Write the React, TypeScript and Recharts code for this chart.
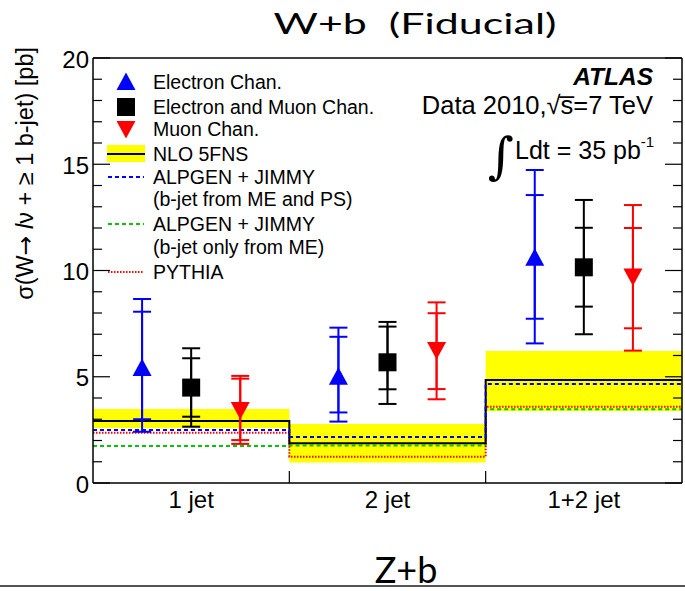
import React from "react";
import { Area, ComposedChart, ErrorBar, Line, Scatter, XAxis, YAxis } from "recharts";

const categories = ["1 jet", "2 jet", "1+2 jet"];

// measured W+b cross sections [pb]: central value, stat-only bounds, total bounds
const electronValue = [5.41, 5.0, 10.6];
const electronStatLow = [3.0, 3.32, 7.73];
const electronStatHigh = [8.06, 6.88, 13.55];
const electronTotLow = [2.41, 2.89, 6.57];
const electronTotHigh = [8.66, 7.31, 14.73];

const combinedValue = [4.49, 5.68, 10.15];
const combinedStatLow = [3.12, 4.41, 8.3];
const combinedStatHigh = [5.87, 7.36, 12.01];
const combinedTotLow = [2.65, 3.72, 7.0];
const combinedTotHigh = [6.34, 7.58, 13.32];

const muonValue = [3.44, 6.26, 9.72];
const muonStatLow = [2.02, 4.42, 7.28];
const muonStatHigh = [4.91, 7.99, 12.0];
const muonTotLow = [1.84, 3.94, 6.23];
const muonTotHigh = [5.04, 8.5, 13.08];

// predictions, one value per bin
const nloCentral = [2.92, 1.87, 4.85];
const nloLow = [2.58, 0.96, 3.39];
const nloHigh = [3.48, 2.78, 6.21];
const alpgenMePs = [2.49, 2.16, 4.66];
const alpgenMe = [1.74, 1.76, 3.47];
const pythia = [2.37, 1.24, 3.59];

const yTicks = [0, 1, 2, 3, 4, 5, 6, 7, 8, 9, 10, 11, 12, 13, 14, 15, 16, 17, 18, 19, 20];
const yLabels = [0, 5, 10, 15, 20];

const FONT = "'Liberation Sans', Arial, Helvetica, sans-serif";
const SLIDE_FONT = "Lato, 'Open Sans', sans-serif";
const BLUE = "#0000ff";
const RED = "#ff0000";
const GREEN = "#00c800";
const YELLOW = "#ffff00";

// histogram-style step: repeat the last bin so stepAfter closes the final bin
const steps = (vals: number[]) => [...vals, vals[vals.length - 1]].map((y, i) => ({ x: i, y }));
const band = (lo: number[], hi: number[]) =>
  [...lo, lo[lo.length - 1]].map((_, i) => {
    const k = Math.min(i, lo.length - 1);
    return { x: i, range: [lo[k], hi[k]] };
  });

const points = (value: number[], sLo: number[], sHi: number[], tLo: number[], tHi: number[], offset: number) =>
  value.map((v, i) => ({
    x: i + offset,
    y: v,
    stat: [v - sLo[i], sHi[i] - v],
    tot: [v - tLo[i], tHi[i] - v],
  }));

const electronPts = points(electronValue, electronStatLow, electronStatHigh, electronTotLow, electronTotHigh, 0.25);
const combinedPts = points(combinedValue, combinedStatLow, combinedStatHigh, combinedTotLow, combinedTotHigh, 0.5);
const muonPts = points(muonValue, muonStatLow, muonStatHigh, muonTotLow, muonTotHigh, 0.75);

const UpTriangle = ({ cx, cy, fill }: any) => (
  <polygon points={`${cx},${cy - 9.5} ${cx - 9.5},${cy + 8} ${cx + 9.5},${cy + 8}`} fill={fill} />
);
const DownTriangle = ({ cx, cy, fill }: any) => (
  <polygon points={`${cx - 9.5},${cy - 8} ${cx + 9.5},${cy - 8} ${cx},${cy + 9.5}`} fill={fill} />
);
const Square = ({ cx, cy, fill }: any) => <rect x={cx - 9} y={cy - 9} width={18} height={18} fill={fill} />;

// ROOT-style ticks: drawn inside the frame, labels only on the majors
const LeftTick = ({ x, y, payload }: any) => {
  const major = yLabels.includes(payload.value);
  return (
    <g>
      <line x1={x} x2={x + (major ? 17 : 9)} y1={y} y2={y} stroke="#000" strokeWidth={1.2} />
      {major && (
        <text x={x - 4} y={y + 9.5} textAnchor="end" fontSize={24} fontFamily={FONT} fill="#000">
          {payload.value}
        </text>
      )}
    </g>
  );
};

const RightTick = ({ x, y, payload }: any) => {
  const major = yLabels.includes(payload.value);
  return <line x1={x} x2={x - (major ? 17 : 9)} y1={y} y2={y} stroke="#000" strokeWidth={1.2} />;
};

const BottomTick = ({ x, y, payload }: any) => {
  const v = payload.value;
  if (Number.isInteger(v)) {
    return <line x1={x} x2={x} y1={y} y2={y - 12} stroke="#000" strokeWidth={1.2} />;
  }
  return (
    <text x={x} y={y + 25} textAnchor="middle" fontSize={24} fontFamily={FONT} fill="#000">
      {categories[Math.floor(v)]}
    </text>
  );
};

const TopTick = ({ x, y }: any) => <line x1={x} x2={x} y1={y} y2={y + 12} stroke="#000" strokeWidth={1.2} />;

const frameLine = { stroke: "#000", strokeWidth: 1.5 };

function Overlay() {
  const legendText = { fontSize: 19.5, fontFamily: FONT, fill: "#000" } as const;
  return (
    <svg width={685} height={591} style={{ position: "absolute", left: 0, top: 0, pointerEvents: "none" }}>
      <text x={415} y={34} textAnchor="middle" fontFamily={SLIDE_FONT} fontSize={29}
        textLength={283} lengthAdjust="spacingAndGlyphs" fill="#000">
        W+b{"\u00a0\u00a0"}(Fiducial)
      </text>

      <text transform="translate(33,47) rotate(-90)" textAnchor="end" fontSize={23.5} fontFamily={FONT} fill="#000">
        σ(W<tspan fontFamily="'DejaVu Sans', sans-serif">→</tspan> <tspan fontStyle="italic">l</tspan>ν + ≥ 1 b-jet) [pb]
      </text>

      {/* legend */}
      <polygon points="126,72.5 116.5,90 135.5,90" fill={BLUE} />
      <text x={153} y={89} {...legendText}>Electron Chan.</text>
      <rect x={117} y={98} width={18} height={18} fill="#000" />
      <text x={153} y={114} {...legendText}>Electron and Muon Chan.</text>
      <polygon points="116.5,121 135.5,121 126,138.5" fill={RED} />
      <text x={153} y={136} {...legendText}>Muon Chan.</text>
      <rect x={107} y={145} width={38} height={17} fill={YELLOW} />
      <line x1={107} x2={145} y1={154} y2={154} stroke="#000" strokeWidth={2} />
      <text x={153} y={161} {...legendText}>NLO 5FNS</text>
      <line x1={108} x2={144} y1={177} y2={177} stroke={BLUE} strokeWidth={2} strokeDasharray="4 3" />
      <text x={153} y={184} {...legendText}>ALPGEN + JIMMY</text>
      <text x={153} y={206} {...legendText}>(b-jet from ME and PS)</text>
      <line x1={108} x2={144} y1={224} y2={224} stroke={GREEN} strokeWidth={2} strokeDasharray="4 3" />
      <text x={153} y={231} {...legendText}>ALPGEN + JIMMY</text>
      <text x={153} y={254} {...legendText}>(b-jet only from ME)</text>
      <line x1={108} x2={144} y1={272} y2={272} stroke={RED} strokeWidth={2} strokeDasharray="1.5 1.5" />
      <text x={153} y={279} {...legendText}>PYTHIA</text>

      {/* experiment label */}
      <text x={653} y={85} textAnchor="end" fontSize={24.5} fontFamily={FONT} fontWeight="bold" fontStyle="italic" fill="#000">
        ATLAS
      </text>
      <text x={653} y={114} textAnchor="end" fontSize={25.5} fontFamily={FONT} fill="#000">
        Data 2010,√s̅=7 TeV
      </text>
      <text x={488} y={173} fontSize={50} fontFamily="'DejaVu Serif', serif" fill="#000">∫</text>
      <text x={515} y={159} fontSize={25} fontFamily={FONT} fill="#000">
        Ldt = 35 pb<tspan fontSize={15} dy={-12}>-1</tspan>
      </text>

      <line x1={0} x2={685} y1={586} y2={586} stroke="#555" strokeWidth={2} />
      <text x={406} y={583} textAnchor="middle" fontFamily={SLIDE_FONT} fontSize={36} fill="#000">
        Z+b
      </text>
    </svg>
  );
}

export default function App() {
  return (
    <div style={{ position: "absolute", left: 0, top: 0, width: 685, height: 591, background: "#fff", overflow: "hidden" }}>
      <ComposedChart width={685} height={530} margin={{ top: 48, right: 0, bottom: 0, left: 0 }}>
        <XAxis dataKey="x" type="number" domain={[0, 3]} allowDataOverflow ticks={[0.5, 1, 1.5, 2, 2.5]} interval={0}
          tick={<BottomTick />} tickSize={0} tickMargin={0} tickLine={false} axisLine={frameLine} height={47} />
        <XAxis xAxisId="top" orientation="top" type="number" domain={[0, 3]} allowDataOverflow ticks={[1, 2]} interval={0}
          tick={<TopTick />} tickSize={0} tickMargin={0} tickLine={false} axisLine={frameLine} height={10} />
        <YAxis type="number" domain={[0, 20]} allowDataOverflow ticks={yTicks} interval={0} tick={<LeftTick />}
          tickSize={0} tickMargin={0} tickLine={false} axisLine={frameLine} width={93} />
        <YAxis yAxisId="right" orientation="right" type="number" domain={[0, 20]} allowDataOverflow ticks={yTicks}
          interval={0} tick={<RightTick />} tickSize={0} tickMargin={0} tickLine={false} axisLine={frameLine} width={3} />

        <Area data={band(nloLow, nloHigh)} dataKey="range" type="stepAfter" fill={YELLOW} fillOpacity={1}
          stroke="none" isAnimationActive={false} />
        <Line data={steps(alpgenMe)} dataKey="y" type="stepAfter" stroke={GREEN} strokeWidth={2}
          strokeDasharray="4 3" dot={false} isAnimationActive={false} />
        <Line data={steps(pythia)} dataKey="y" type="stepAfter" stroke={RED} strokeWidth={2}
          strokeDasharray="1.5 1.5" dot={false} isAnimationActive={false} />
        <Line data={steps(nloCentral)} dataKey="y" type="stepAfter" stroke="#000" strokeWidth={2}
          dot={false} isAnimationActive={false} />
        <Line data={steps(alpgenMePs)} dataKey="y" type="stepAfter" stroke={BLUE} strokeWidth={2}
          strokeDasharray="4 3" dot={false} isAnimationActive={false} />

        <Scatter data={electronPts} dataKey="y" fill={BLUE} shape={(p: any) => <UpTriangle {...p} />} isAnimationActive={false}>
          <ErrorBar dataKey="tot" direction="y" width={9} stroke={BLUE} strokeWidth={2} />
          <ErrorBar dataKey="stat" direction="y" width={9} stroke={BLUE} strokeWidth={2} />
        </Scatter>
        <Scatter data={combinedPts} dataKey="y" fill="#000" shape={(p: any) => <Square {...p} />} isAnimationActive={false}>
          <ErrorBar dataKey="tot" direction="y" width={9} stroke="#000" strokeWidth={2} />
          <ErrorBar dataKey="stat" direction="y" width={9} stroke="#000" strokeWidth={2} />
        </Scatter>
        <Scatter data={muonPts} dataKey="y" fill={RED} shape={(p: any) => <DownTriangle {...p} />} isAnimationActive={false}>
          <ErrorBar dataKey="tot" direction="y" width={9} stroke={RED} strokeWidth={2} />
          <ErrorBar dataKey="stat" direction="y" width={9} stroke={RED} strokeWidth={2} />
        </Scatter>
      </ComposedChart>
      <Overlay />
    </div>
  );
}
